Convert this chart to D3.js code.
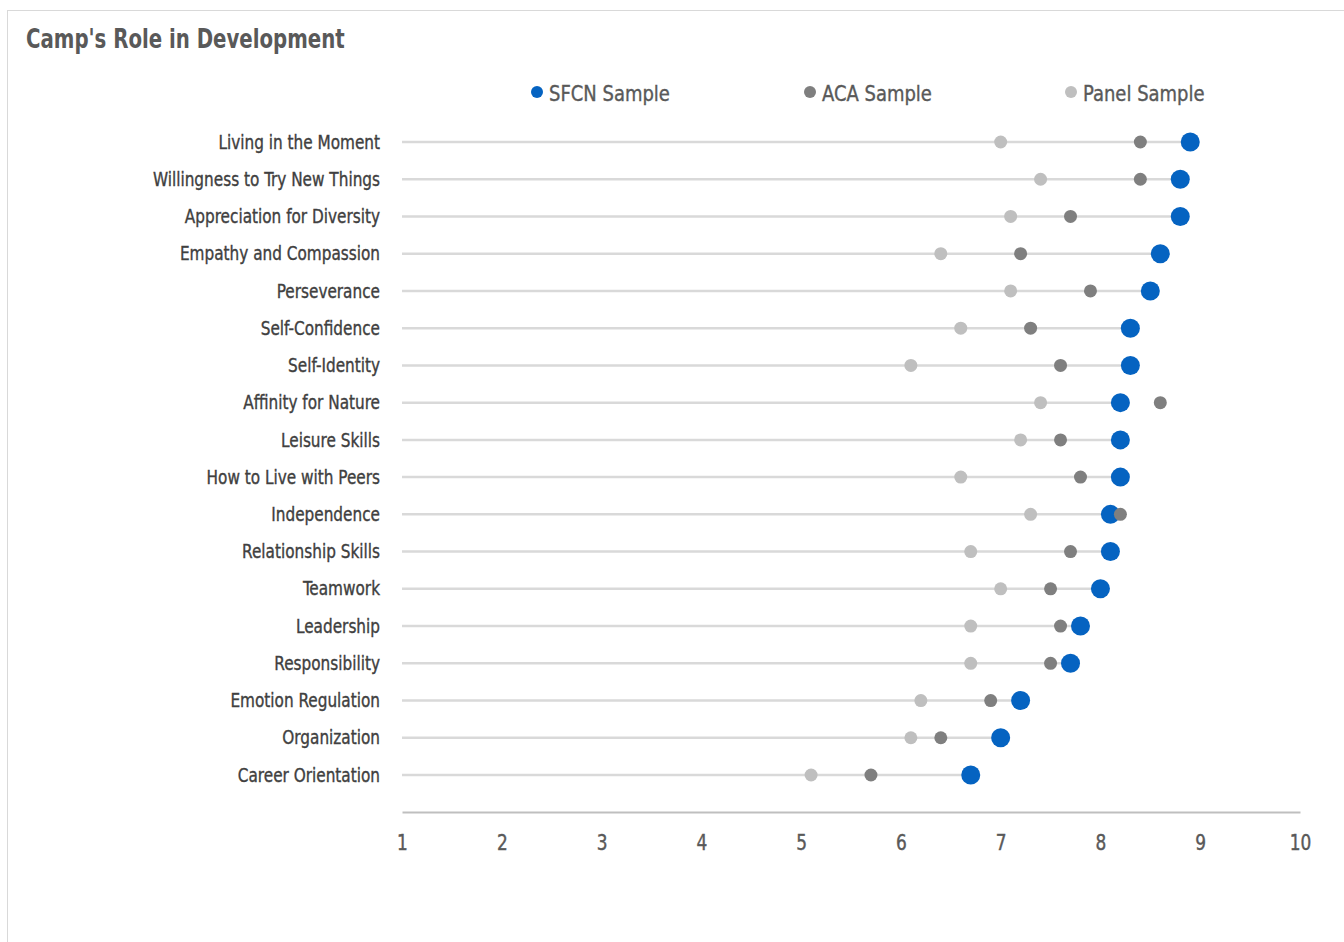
<!DOCTYPE html>
<html>
<head>
<meta charset="utf-8">
<script src="https://cdn.jsdelivr.net/npm/d3@7"></script>
<style>
html,body{margin:0;padding:0;background:#fff;}
svg{display:block;}
text{font-family:"Liberation Sans Narrow","Arial Narrow","DejaVu Sans Condensed",sans-serif;}
</style>
</head>
<body>
<svg id="chart" width="1344" height="942"></svg>
<script>
const categories = ["Living in the Moment","Willingness to Try New Things","Appreciation for Diversity","Empathy and Compassion","Perseverance","Self-Confidence","Self-Identity","Affinity for Nature","Leisure Skills","How to Live with Peers","Independence","Relationship Skills","Teamwork","Leadership","Responsibility","Emotion Regulation","Organization","Career Orientation"];
const sfcn  = [8.9,8.8,8.8,8.6,8.5,8.3,8.3,8.2,8.2,8.2,8.1,8.1,8.0,7.8,7.7,7.2,7.0,6.7];
const aca   = [8.4,8.4,7.7,7.2,7.9,7.3,7.6,8.6,7.6,7.8,8.2,7.7,7.5,7.6,7.5,6.9,6.4,5.7];
const panel = [7.0,7.4,7.1,6.4,7.1,6.6,6.1,7.4,7.2,6.6,7.3,6.7,7.0,6.7,6.7,6.2,6.1,5.1];
const xTicks = [1,2,3,4,5,6,7,8,9,10];
const seriesNames = ["SFCN Sample","ACA Sample","Panel Sample"];

const svg = d3.select("#chart");
const colors = {sfcn:"#0563C1", aca:"#7F7F7F", panel:"#BFBFBF"};

// border
svg.append("rect").attr("x",7.5).attr("y",10.5).attr("width",1344).attr("height",942)
  .attr("fill","none").attr("stroke","#D9D9D9").attr("stroke-width",1);

// title
svg.append("text").attr("transform","translate(26,48) scale(0.845,1)").text("Camp's Role in Development")
  .attr("font-size",26).attr("font-weight","bold").attr("fill","#595959");

const x = d3.scaleLinear().domain([1,10]).range([402,1300]);
const y = d3.scalePoint().domain(categories).range([142,775]);

// axis
const axisG = svg.append("g").attr("transform","translate(0,812)")
  .call(d3.axisBottom(x).tickValues(xTicks).tickSize(0).tickPadding(23).tickFormat(d3.format("d")));
axisG.select(".domain").attr("stroke","#BFBFBF").attr("stroke-width",2);
axisG.selectAll("text").attr("font-size",20.5).attr("fill","#595959")
  .attr("stroke","#595959").attr("stroke-width",0.4)
  .attr("transform","scale(0.92,1)")
  .style("font-family",'"Liberation Sans Narrow","Arial Narrow","DejaVu Sans Condensed",sans-serif');

// category labels
svg.append("g").selectAll("text").data(categories).join("text")
  .attr("transform",d=>`translate(380,${y(d)}) scale(0.895,1)`)
  .attr("dy","0.35em").attr("text-anchor","end")
  .attr("font-size",19).attr("fill","#404040")
  .attr("stroke","#404040").attr("stroke-width",0.35).text(d=>d);

// connector lines
svg.append("g").selectAll("line").data(categories).join("line")
  .attr("x1",x(1)).attr("x2",(d,i)=>x(sfcn[i]))
  .attr("y1",d=>y(d)).attr("y2",d=>y(d))
  .attr("stroke","#D9D9D9").attr("stroke-width",2.5);

function dots(vals, color, r){
  svg.append("g").selectAll("circle").data(vals).join("circle")
    .attr("cx",d=>x(d)).attr("cy",(d,i)=>y(categories[i])).attr("r",r).attr("fill",color);
}
dots(panel, colors.panel, 6.5);
dots(sfcn, colors.sfcn, 9.5);
dots(aca, colors.aca, 6.5);

// legend
const legendX = [537, 810, 1071];
const legendColors = [colors.sfcn, colors.aca, colors.panel];
const lg = svg.append("g");
seriesNames.forEach((n,i)=>{
  lg.append("circle").attr("cx",legendX[i]).attr("cy",92).attr("r",6).attr("fill",legendColors[i]);
  lg.append("text").attr("transform",`translate(${legendX[i]+12},93) scale(0.93,1)`).attr("dy","0.35em")
    .attr("font-size",21.5).attr("fill","#595959")
    .attr("stroke","#595959").attr("stroke-width",0.35).text(n);
});
</script>
</body>
</html>
